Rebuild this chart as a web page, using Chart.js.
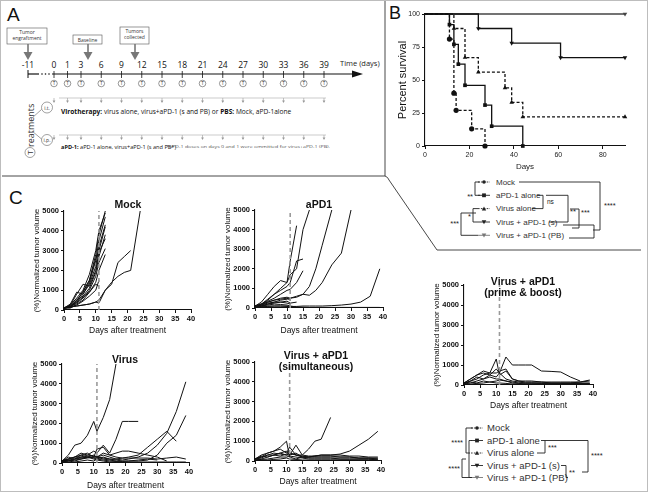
<!DOCTYPE html>
<html>
<head>
<meta charset="utf-8">
<script src="https://cdn.jsdelivr.net/npm/chart.js@4.4.1/dist/chart.umd.min.js"></script>
<style>
  html, body { margin: 0; padding: 0; background: #fff; }
  #fig { position: relative; width: 648px; height: 492px; overflow: hidden; font-family: "Liberation Sans", Arial, sans-serif; }
  #fig canvas { position: absolute; z-index: 2; }
  #art { position: absolute; left: 0; top: 0; z-index: 1; }
  .ttl { position: absolute; z-index: 3; font-weight: bold; font-size: 10.5px; line-height: 11px; text-align: center; white-space: nowrap; transform: translateX(-50%); color: #111; }
</style>
</head>
<body>
<div id="fig">
  <svg id="art" width="648" height="492" xmlns="http://www.w3.org/2000/svg"></svg>
  <canvas id="mockChart"></canvas>
  <canvas id="apd1Chart"></canvas>
  <canvas id="virusChart"></canvas>
  <canvas id="simChart"></canvas>
  <canvas id="pbChart"></canvas>
  <canvas id="survChart"></canvas>
  <div class="ttl" style="left:128px;top:199px">Mock</div>
  <div class="ttl" style="left:319px;top:199px">aPD1</div>
  <div class="ttl" style="left:125px;top:354px">Virus</div>
  <div class="ttl" style="left:316px;top:350px">Virus + aPD1<br>(simultaneous)</div>
  <div class="ttl" style="left:523px;top:276px">Virus + aPD1<br>(prime &amp; boost)</div>
</div>
<script>
(function () {
  "use strict";

  // ---- timeline (panel A) ----
  const tlDays = [0, 1, 3, 6, 9, 12, 15, 18, 21, 24, 27, 30, 33, 36, 39];

  // ---- survival (panel B) ----
  const mockSurvDays  = [0, 11, 13, 14, 21, 27];
  const mockSurvPct   = [100, 81, 40, 27, 13, 0];
  const apdSurvDays   = [0, 11, 13, 15, 18, 27, 30, 44];
  const apdSurvPct    = [100, 92, 77, 62, 46, 31, 15, 0];
  const virSurvDays   = [0, 13, 18, 24, 36, 39, 44, 90];
  const virSurvPct    = [100, 89, 67, 56, 44, 33, 22, 22];
  const simSurvDays   = [0, 24, 39, 61, 90];
  const simSurvPct    = [100, 89, 78, 67, 67];
  const pbSurvDays    = [0, 90];
  const pbSurvPct     = [100, 100];
  const survTicksX    = [0, 20, 40, 60, 80];
  const survTicksY    = [0, 25, 50, 75, 100];

  // ---- tumour volumes (panel C), one list per mouse on the shared day grid ----
  const dayGrid = [0, 2, 4, 6, 8, 10, 11, 13, 15, 17, 19, 21, 24, 27, 30, 33, 36, 39];
  const collectDay = 11;

  const mockMice = [
    [100, 200, 500, 900, 1500, 2800, 3800, 5000],
    [100, 250, 600, 1000, 1800, 3000, 4000, 4900],
    [100, 150, 400, 800, 1400, 2500, 3500, 4700],
    [100, 300, 900, 800, 1300, 2200, 3200, 4300],
    [100, 200, 500, 700, 1100, 1900, 2700, 3800],
    [100, 150, 350, 600, 1000, 1700, 2400, 3100],
    [100, 200, 450, 950, 1500, 2600, 3000, 4200],
    [100, 100, 300, 500, 900, 1400, 2000, 2800],
    [100, 250, 800, 1300, 1200, 2000, 2900, 3600],
    [100, 120, 250, 450, 700, 1000, 1500],
    [100, 180, 400, 650, 900, 1300, 1200],
    [100, 150, 200, 250, 300, 400, 350, 1000, 1300, 2400, 2700, 3000],
    [100, 150, 200, 250, 300, 400, 500, 1000, 1400, 1700, 1900, 2000, 5000]
  ];

  const apd1Mice = [
    [100, 300, 700, 1100, 1400, 1300, 2400, 4200],
    [100, 200, 450, 700, 900, 1100, 1300, 2400, 2500],
    [100, 200, 400, 700, 1000, 1300, 1700, 2000, 4000, 5000],
    [100, 150, 300, 400, 500, 550, 500, 600, 700, 1100, 2000, 3200, 5000],
    [100, 120, 200, 300, 400, 450, 500, 550, 700, 650, 900, 1300, 2200, 2800, 5000],
    [50, 80, 100, 100, 100, 100, 80, 80, 100, 100, 100, 100, 120, 150, 200, 300, 600, 2000],
    [50, 60, 80, 100, 100, 80, 50, 50, 40, 30, 30, 30, 30, 30, 30, 30, 30, 30],
    [100, 150, 250, 300, 300, 250, 200],
    [100, 100, 200, 250, 300, 350, 250, 300],
    [100, 200, 300, 400, 450, 500, 400],
    [80, 100, 150, 200, 180, 150, 100, 50],
    [100, 200, 350, 500, 700, 900, 950, 1300, 1900]
  ];

  const virusMice = [
    [100, 400, 900, 1000, 1400, 2100, 1600, 2300, 3200, 5000],
    [100, 200, 300, 300, 400, 600, 500, 900, 500, 1200, 2100, 2100, 2100],
    [100, 100, 200, 300, 300, 300, 300, 400, 300, 200, 150, 200, 300, 500, 900, 1500, 2600, 4100],
    [100, 150, 200, 250, 300, 250, 200, 300, 200, 150, 100, 100, 100, 150, 400, 1000, 1400, 2400],
    [100, 200, 300, 400, 300, 400, 300, 500, 400, 300, 250, 300, 400, 800, 1200, 1600, 1100],
    [100, 300, 200, 400, 500, 300, 700, 800, 400, 500, 600, 600, 500, 400, 300, 100],
    [50, 100, 150, 200, 250, 300, 300, 250, 200, 200, 250, 250, 250, 250, 200, 250, 300, 200],
    [100, 150, 100, 200, 300, 200, 150, 100, 50, 50, 50, 50, 50, 50, 50, 50, 50, 50],
    [100, 200, 300, 500, 400, 350, 300, 200, 150, 100],
    [80, 100, 50, 100, 150, 100, 200, 150, 100, 80, 80, 100, 150, 200, 150]
  ];

  const simMice = [
    [100, 200, 400, 500, 600, 400, 700, 300, 300, 600, 1000, 1100, 2200],
    [100, 150, 300, 400, 350, 300, 400, 300, 200, 200, 250, 300, 300, 350, 500, 800, 1100, 1500],
    [100, 300, 400, 500, 700, 1000, 200, 100, 200, 200, 250, 250, 250, 200, 200, 150, 150, 150],
    [100, 200, 300, 300, 400, 300, 300, 800, 300, 250, 250, 300, 300, 300, 250, 250, 200, 200],
    [50, 100, 200, 300, 250, 350, 400, 300, 250, 200, 200, 200, 200, 200, 200, 150, 150, 100],
    [50, 80, 100, 150, 200, 200, 250, 200, 150, 100, 100, 100, 100, 100, 100, 100, 100, 100],
    [100, 250, 200, 300, 400, 500, 300, 400, 200, 150, 150, 150, 150, 100, 100, 100, 100, 50],
    [30, 50, 50, 80, 100, 150, 100, 80, 50, 50, 50, 50, 50, 50, 50, 50, 50, 50]
  ];

  const pbMice = [
    [100, 300, 500, 600, 500, 800, 600, 1400, 1000, 1000, 1000, 1000, 700, 680, 650, 400, 200],
    [100, 200, 300, 500, 600, 1300, 500, 700, 300, 200, 200, 200, 150, 150, 150, 150, 150, 200],
    [100, 300, 500, 700, 600, 600, 700, 800, 300, 200, 150, 150, 150, 100, 100, 100, 150, 250],
    [50, 200, 400, 300, 500, 400, 600, 300, 200, 150, 100, 100, 100, 100, 100, 100, 100, 100],
    [50, 100, 200, 300, 400, 300, 300, 200, 150, 100, 100, 100, 80, 80, 80, 80, 80, 80],
    [100, 150, 100, 200, 150, 200, 250, 200, 100, 80, 50, 50, 50, 50, 50, 50, 50, 50],
    [30, 50, 80, 100, 150, 100, 100, 80, 50, 50, 50, 50, 50, 50, 50, 50, 50, 50]
  ];

  const volTicksX = [0, 5, 10, 15, 20, 25, 30, 35, 40];
  const volTicksY = [0, 1000, 2000, 3000, 4000, 5000];

  const ink = '#111';
  const fontFam = '"Liberation Sans", Arial, sans-serif';

  // ------------------------------------------------------------------
  //  Charts
  // ------------------------------------------------------------------
  Chart.defaults.font.family = fontFam;
  Chart.defaults.color = ink;

  function place(id, box) {
    const cv = document.getElementById(id);
    cv.width = box.w; cv.height = box.h;
    cv.style.left = box.x + 'px'; cv.style.top = box.y + 'px';
    return cv.getContext('2d');
  }
  function axisStyle() {
    return {
      grid: { display: true, drawOnChartArea: false, drawTicks: true, tickLength: 3, color: ink, lineWidth: 1 },
      border: { display: true, color: ink, width: 1.1 }
    };
  }
  function fixTicks(list) {
    return function (s) { s.ticks = list.map(function (v) { return { value: v }; }); };
  }
  function plain(v) { return String(v); }

  // spaghetti plots
  function tumorChart(id, box, plot, mice) {
    const ctx = place(id, box);
    const datasets = [{
      data: [{ x: collectDay, y: 0 }, { x: collectDay, y: 5000 }],
      borderColor: '#9a9a9a', borderWidth: 1.6, borderDash: [4, 3], pointRadius: 0
    }];
    mice.forEach(function (vals) {
      datasets.push({
        data: vals.map(function (v, i) { return { x: dayGrid[i], y: v }; }),
        borderColor: ink, borderWidth: 1, pointRadius: 0, tension: 0
      });
    });
    return new Chart(ctx, {
      type: 'line',
      data: { datasets: datasets },
      options: {
        responsive: false,
        animation: false,
        layout: { padding: { left: 0, top: plot.t - box.y, right: box.x + box.w - plot.r, bottom: 0 } },
        plugins: { legend: { display: false }, tooltip: { enabled: false } },
        scales: {
          x: Object.assign(axisStyle(), {
            type: 'linear', min: 0, max: 40,
            afterBuildTicks: fixTicks(volTicksX),
            ticks: { font: { size: 7.5, weight: 'bold' }, padding: 1, callback: plain },
            title: { display: true, text: 'Days after treatment', font: { size: 8.5 }, padding: 0 },
            afterFit: function (s) { s.height = box.y + box.h - plot.b; }
          }),
          y: Object.assign(axisStyle(), {
            type: 'linear', min: 0, max: 5000,
            afterBuildTicks: fixTicks(volTicksY),
            ticks: { font: { size: 7.5, weight: 'bold' }, padding: 2, callback: plain },
            title: { display: true, text: '(%)Normalized tumor volume', font: { size: 8 }, padding: 0 },
            afterFit: function (s) { s.width = plot.l - box.x; }
          })
        }
      }
    });
  }

  tumorChart('mockChart',  { x: 32,  y: 195, w: 168, h: 141 }, { l: 64,  r: 191, t: 211, b: 310 }, mockMice);
  tumorChart('apd1Chart',  { x: 223, y: 195, w: 169, h: 141 }, { l: 255, r: 383, t: 210, b: 308 }, apd1Mice);
  tumorChart('virusChart', { x: 30,  y: 350, w: 168, h: 141 }, { l: 62,  r: 189, t: 364, b: 463 }, virusMice);
  tumorChart('simChart',   { x: 223, y: 350, w: 167, h: 137 }, { l: 255, r: 381, t: 362, b: 461 }, simMice);
  tumorChart('pbChart',    { x: 432, y: 270, w: 170, h: 141 }, { l: 464, r: 593, t: 285, b: 385 }, pbMice);

  // KM survival (y tick labels written from the scale in afterDraw)
  const yLabelsFromScale = {
    id: 'yLabelsFromScale',
    afterDraw: function (chart) {
      const s = chart.scales.y;
      const c = chart.ctx;
      c.save();
      c.font = '7px ' + fontFam;
      c.fillStyle = '#222';
      c.textAlign = 'right';
      c.textBaseline = 'middle';
      s.ticks.forEach(function (t) {
        c.fillText(String(t.value), s.right - 5, s.getPixelForValue(t.value));
      });
      c.restore();
    }
  };
  const survBox = { x: 396, y: 6, w: 244, h: 166 };
  const survPlot = { l: 425, r: 625, t: 14, b: 146 };
  const survGroups = [
    { days: mockSurvDays, pct: mockSurvPct, shape: 'circle', rot: 0, dash: [3, 2], col: '#111' },
    { days: apdSurvDays, pct: apdSurvPct, shape: 'rect', rot: 0, dash: [], col: '#111' },
    { days: virSurvDays, pct: virSurvPct, shape: 'triangle', rot: 0, dash: [3, 2], col: '#111' },
    { days: simSurvDays, pct: simSurvPct, shape: 'triangle', rot: 180, dash: [], col: '#111' },
    { days: pbSurvDays, pct: pbSurvPct, shape: 'triangle', rot: 180, dash: [], col: '#444' }
  ];
  new Chart(place('survChart', survBox), {
    type: 'line',
    plugins: [yLabelsFromScale],
    data: {
      datasets: survGroups.map(function (g) {
        return {
          data: g.days.map(function (d, i) { return { x: d, y: g.pct[i] }; }),
          stepped: 'before',
          borderColor: g.col,
          borderWidth: 1.3,
          borderDash: g.dash,
          pointStyle: g.shape,
          pointRotation: g.rot,
          pointRadius: g.days.map(function (d, i) { return i === 0 ? 0 : 2.6; }),
          pointBackgroundColor: g.col,
          pointBorderColor: g.col,
          pointBorderWidth: 0,
          clip: false
        };
      })
    },
    options: {
      responsive: false,
      animation: false,
      layout: { padding: { left: 0, top: survPlot.t - survBox.y, right: survBox.x + survBox.w - survPlot.r, bottom: 0 } },
      plugins: { legend: { display: false }, tooltip: { enabled: false } },
      scales: {
        x: Object.assign(axisStyle(), {
          type: 'linear', min: 0, max: 90,
          afterBuildTicks: fixTicks(survTicksX),
          ticks: { font: { size: 7 }, padding: 2, color: '#222', callback: plain },
          title: { display: true, text: 'Days', font: { size: 8 }, padding: 0, color: '#222' },
          afterFit: function (s) { s.height = survBox.y + survBox.h - survPlot.b; }
        }),
        y: Object.assign(axisStyle(), {
          type: 'linear', min: 0, max: 100,
          afterBuildTicks: fixTicks(survTicksY),
          ticks: { display: false },
          title: { display: true, text: 'Percent survival', font: { size: 11 }, padding: 0, color: '#111' },
          afterFit: function (s) { s.width = survPlot.l - survBox.x; }
        })
      }
    }
  });

  // ------------------------------------------------------------------
  //  SVG art: panel A, frame lines, legends
  // ------------------------------------------------------------------
  const NS = 'http://www.w3.org/2000/svg';
  const art = document.getElementById('art');
  function el(tag, attrs, text, parent) {
    const e = document.createElementNS(NS, tag);
    for (const k in attrs) e.setAttribute(k, attrs[k]);
    if (text != null) e.textContent = text;
    (parent || art).appendChild(e);
    return e;
  }

  // outer border + frame
  el('rect', { x: 0.5, y: 0.5, width: 647, height: 491, fill: 'none', stroke: '#bdbdbd' });
  el('path', { d: 'M385,1 V176 M2,176 H385 M385,176 Q388,177 389,180 L437,250 H641', fill: 'none', stroke: '#333', 'stroke-width': 0.9 });

  // panel letters
  el('text', { x: 7, y: 21, 'font-size': 19, 'font-family': fontFam, fill: ink }, 'A');
  el('text', { x: 389, y: 19, 'font-size': 18, 'font-family': fontFam, fill: ink }, 'B');
  el('text', { x: 9, y: 204, 'font-size': 19, 'font-family': fontFam, fill: ink }, 'C');

  // timeline
  const tf = '"Open Sans", "Noto Sans", sans-serif';
  function dayX(d) { return d === 0 ? 54 : d === 1 ? 67.5 : 81 + (d - 3) * 6.75; }

  function noteBox(x, y, w, h, lines, ax) {
    el('rect', { x: x, y: y, width: w, height: h, fill: '#fff', stroke: '#555', 'stroke-width': 0.6 });
    lines.forEach(function (t, i) {
      el('text', { x: x + w / 2, y: y + (lines.length === 1 ? h / 2 + 2 : 6 + i * 6), 'font-size': 5, 'font-family': tf, 'text-anchor': 'middle', fill: '#333' }, t);
    });
    el('line', { x1: ax, y1: y + h, x2: ax, y2: 54, stroke: '#777', 'stroke-width': 1.6 });
    el('path', { d: 'M' + (ax - 4.5) + ',52 L' + (ax + 4.5) + ',52 L' + ax + ',60 Z', fill: '#777' });
  }
  noteBox(7, 28, 40, 16, ['Tumor', 'engraftment'], 28);
  noteBox(73, 35, 29, 9, ['Baseline'], 88);
  noteBox(120, 27, 29, 17, ['Tumors', 'collected'], 135);

  el('text', { x: 28, y: 68, 'font-size': 8.5, 'font-family': tf, 'text-anchor': 'middle', fill: ink }, '-11');
  el('line', { x1: 28, y1: 74, x2: 39, y2: 74, stroke: ink, 'stroke-width': 1.2 });
  el('line', { x1: 28, y1: 70, x2: 28, y2: 78, stroke: ink, 'stroke-width': 1 });
  [42, 45.5, 49].forEach(function (x) { el('circle', { cx: x, cy: 74, r: 0.8, fill: ink }); });
  el('line', { x1: 52, y1: 74, x2: 356, y2: 74, stroke: ink, 'stroke-width': 1.2 });
  el('path', { d: 'M352,70.5 L363,74 L352,77.5 Z', fill: ink });
  el('text', { x: 340, y: 66, 'font-size': 7.5, 'font-family': tf, fill: '#222' }, 'Time (days)');

  tlDays.forEach(function (d) {
    const x = dayX(d);
    el('text', { x: x, y: 68, 'font-size': 8.5, 'font-family': tf, 'text-anchor': 'middle', fill: ink }, String(d));
    el('line', { x1: x, y1: 71, x2: x, y2: 78, stroke: ink, 'stroke-width': 0.8 });
    el('circle', { cx: x, cy: 83.5, r: 3.3, fill: '#fff', stroke: '#333', 'stroke-width': 0.5 });
    el('text', { x: x, y: 85.3, 'font-size': 4.8, 'font-family': tf, 'text-anchor': 'middle', fill: '#333' }, 'T');
    [98, 135].forEach(function (ry) {
      el('line', { x1: x, y1: ry, x2: x, y2: ry + 4, stroke: '#999', 'stroke-width': 0.6 });
      el('path', { d: 'M' + (x - 1.4) + ',' + (ry + 2.6) + ' L' + (x + 1.4) + ',' + (ry + 2.6) + ' L' + x + ',' + (ry + 5) + ' Z', fill: '#999' });
    });
  });
  el('line', { x1: 59, y1: 98, x2: 326, y2: 98, stroke: '#aaa', 'stroke-width': 0.6 });
  el('line', { x1: 59, y1: 135, x2: 326, y2: 135, stroke: '#aaa', 'stroke-width': 0.6 });

  // route circles
  el('circle', { cx: 47, cy: 107.5, r: 5.5, fill: '#fff', stroke: '#444', 'stroke-width': 0.5 });
  el('text', { x: 47, y: 109.5, 'font-size': 5, 'font-family': tf, 'text-anchor': 'middle', fill: '#333' }, 'i.t.');
  el('circle', { cx: 47, cy: 140, r: 5.5, fill: '#fff', stroke: '#444', 'stroke-width': 0.5 });
  el('text', { x: 47, y: 142, 'font-size': 5, 'font-family': tf, 'text-anchor': 'middle', fill: '#333' }, 'i.p.');
  el('path', { d: 'M32,118 L41.5,109.5 M32,131 L41.5,139', stroke: '#444', 'stroke-width': 0.5, fill: 'none' });

  const t1 = el('text', { x: 61, y: 114, 'font-size': 6.6, 'font-family': tf, fill: ink });
  el('tspan', { 'font-weight': 'bold' }, 'Virotherapy:', t1);
  el('tspan', {}, ' virus alone, virus+aPD-1 (s and PB)  or  ', t1);
  el('tspan', { 'font-weight': 'bold' }, 'PBS:', t1);
  el('tspan', {}, ' Mock, aPD-1alone', t1);
  const t2 = el('text', { x: 61, y: 149, 'font-size': 5.6, 'font-family': tf, fill: ink });
  el('tspan', { 'font-weight': 'bold' }, 'aPD-1:', t2);
  el('tspan', {}, ' aPD-1 alone, virus+aPD-1 (s and PB*)', t2);
  el('text', { x: 166, y: 148, 'font-size': 3, 'font-family': tf, fill: '#555', textLength: 164, lengthAdjust: 'spacingAndGlyphs' }, '*aPD-1 doses on days 0 and 1 were ommitted for virus+aPD-1 (PB).');

  el('text', { x: 0, y: 0, transform: 'translate(33.5,147) rotate(-90)', 'font-size': 9, 'font-family': tf, fill: '#333' }, 'reatments');
  el('circle', { cx: 30, cy: 152.5, r: 5, fill: '#fff', stroke: '#444', 'stroke-width': 0.5 });
  el('text', { x: 0, y: 0, transform: 'translate(33,152.5) rotate(-90)', 'font-size': 8, 'font-family': tf, 'text-anchor': 'middle', fill: '#333' }, 'T');

  // legend markers
  function marker(x, y, shape, dashed, col, half) {
    el('line', { x1: x - half, y1: y, x2: x + half, y2: y, stroke: col, 'stroke-width': 0.9, 'stroke-dasharray': dashed ? '1.6,1.3' : 'none' });
    if (shape === 'circle') el('circle', { cx: x, cy: y, r: 1.8, fill: col });
    if (shape === 'rect') el('rect', { x: x - 1.9, y: y - 1.9, width: 3.8, height: 3.8, fill: col });
    if (shape === 'tri') el('path', { d: 'M' + (x - 2.2) + ',' + (y + 1.8) + ' L' + (x + 2.2) + ',' + (y + 1.8) + ' L' + x + ',' + (y - 2.2) + ' Z', fill: col });
    if (shape === 'tridown') el('path', { d: 'M' + (x - 2.3) + ',' + (y - 1.8) + ' L' + (x + 2.3) + ',' + (y - 1.8) + ' L' + x + ',' + (y + 2.3) + ' Z', fill: col });
  }
  const legendNames = ['Mock', 'aPD-1 alone', 'Virus alone', 'Virus + aPD-1 (s)', 'Virus + aPD-1 (PB)'];
  const legendShapes = ['circle', 'rect', 'tri', 'tridown', 'tridown'];
  const legendDashed = [true, false, true, false, false];
  const legendCols = ['#222', '#222', '#222', '#222', '#777'];

  function legend(x0, tx, rows, size) {
    rows.forEach(function (y, i) {
      marker(x0, y, legendShapes[i], legendDashed[i], legendCols[i], 6);
      el('text', { x: tx, y: y + size * 0.36, 'font-size': size, 'font-family': fontFam, fill: '#333' }, legendNames[i]);
    });
  }
  function br(d) { el('path', { d: d, fill: 'none', stroke: '#222', 'stroke-width': 0.9 }); }
  function star(x, y, t, a) { el('text', { x: x, y: y, 'font-size': 7.5, 'font-family': fontFam, 'text-anchor': a || 'start', fill: '#222' }, t); }

  // legend B
  const rowsB = [182, 195.3, 208.6, 222, 235.3];
  legend(484, 496, rowsB, 8);
  br('M519,182 H600 V230 H593');
  br('M537,195.3 H543 V208.6 H532');
  br('M546,195.3 H568 V222 H549');
  br('M570,209 H579 V228 H572');
  br('M563,225 H594 V238 H569');
  br('M480,182 H475 V195.3 H480');
  br('M478,208.6 H473 V222 H478');
  br('M476,213 H461 V235.3 H478');
  star(473, 199, '**', 'end');
  star(471, 219, '*', 'end');
  star(459, 226, '***', 'end');
  el('text', { x: 547, y: 204, 'font-size': 6.5, 'font-family': fontFam, fill: '#222' }, 'ns');
  star(570, 214, '**');
  star(581, 215, '***');
  star(604, 208, '****');

  // legend C
  const rowsC = [428, 440.5, 453, 465.5, 477.5];
  legend(477, 487, rowsC, 9.5);
  br('M541,440.5 H545 V453 H537');
  br('M545,440.5 H588 V472 H582');
  br('M561,465.5 H566 V477.5 H568');
  br('M473,428 H466 V453 H470');
  br('M472,440.5 H469 V477.5 H472');
  br('M466,459 H462 V477.5 H471');
  star(548, 450, '***');
  star(569, 475, '**');
  star(591, 458, '****');
  star(463, 445, '****', 'end');
  star(460, 471, '****', 'end');
})();
</script>
</body>
</html>
